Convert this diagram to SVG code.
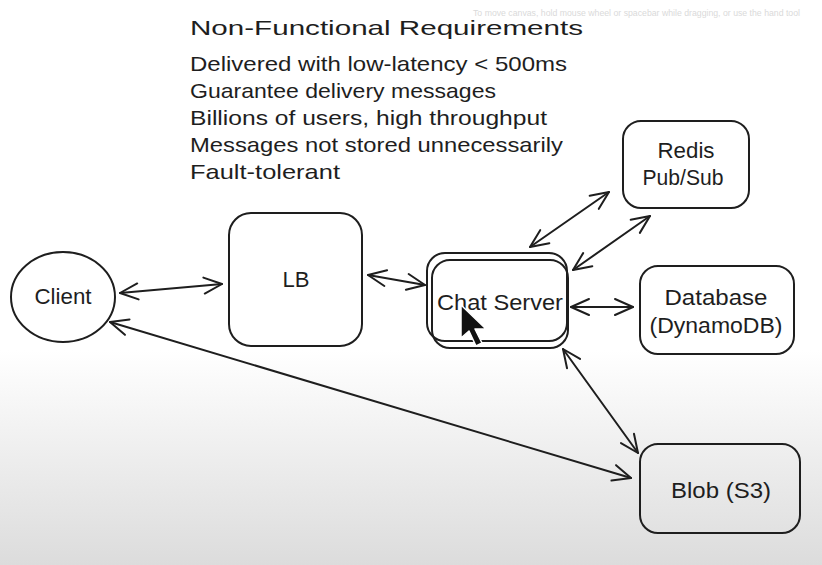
<svg xmlns="http://www.w3.org/2000/svg" width="822" height="565" viewBox="0 0 822 565">
<defs>
<linearGradient id="bg" x1="0" y1="0" x2="0" y2="1">
<stop offset="0" stop-color="#ffffff"/>
<stop offset="0.62" stop-color="#ffffff"/>
<stop offset="1" stop-color="#dcdcdc"/>
</linearGradient>
<marker id="ah" viewBox="0 0 22 22" refX="20" refY="11" markerWidth="22" markerHeight="22" markerUnits="userSpaceOnUse" orient="auto-start-reverse">
<path d="M2,3 L20,11 L2,19" fill="none" stroke="#1e1e1e" stroke-width="2" stroke-linecap="round" stroke-linejoin="round"/>
</marker>
<style>
.shape{fill:none;stroke:#1e1e1e;stroke-width:2}
.lbl{font-family:"Liberation Sans","DejaVu Sans",sans-serif;font-size:22px;fill:#1e1e1e;text-anchor:middle}
.req{font-family:"Liberation Sans","DejaVu Sans",sans-serif;font-size:21px;fill:#1e1e1e}
.conn{fill:none;stroke:#1e1e1e;stroke-width:2;stroke-linecap:round;marker-start:url(#ah);marker-end:url(#ah)}
</style>
</defs>
<rect x="0" y="0" width="822" height="565" fill="url(#bg)"/>
<text x="473" y="16" font-family="Liberation Sans, sans-serif" font-size="9" fill="#dadada" textLength="327" lengthAdjust="spacingAndGlyphs">To move canvas, hold mouse wheel or spacebar while dragging, or use the hand tool</text>
<g id="requirements">
<text x="190" y="35" class="req" font-size="27" textLength="393" lengthAdjust="spacingAndGlyphs">Non-Functional Requirements</text>
<text x="190" y="71" class="req" textLength="377" lengthAdjust="spacingAndGlyphs">Delivered with low-latency &lt; 500ms</text>
<text x="190" y="98" class="req" textLength="306" lengthAdjust="spacingAndGlyphs">Guarantee delivery messages</text>
<text x="190" y="125" class="req" textLength="357" lengthAdjust="spacingAndGlyphs">Billions of users, high throughput</text>
<text x="190" y="152" class="req" textLength="373" lengthAdjust="spacingAndGlyphs">Messages not stored unnecessarily</text>
<text x="190" y="179" class="req" textLength="150" lengthAdjust="spacingAndGlyphs">Fault-tolerant</text>
</g>
<g id="connectors">
<line class="conn" x1="120" y1="293" x2="222" y2="284"/>
<line class="conn" x1="368" y1="275" x2="425" y2="285"/>
<line class="conn" x1="530" y1="247" x2="609" y2="192"/>
<line class="conn" x1="573" y1="270" x2="650" y2="216"/>
<line class="conn" x1="571" y1="307" x2="633" y2="307"/>
<line class="conn" x1="563" y1="349" x2="638" y2="453"/>
<line class="conn" x1="110" y1="322" x2="631" y2="478"/>
</g>
<g id="client">
<ellipse class="shape" cx="63" cy="297" rx="52" ry="45"/>
<text class="lbl" x="63" y="304" textLength="57" lengthAdjust="spacingAndGlyphs">Client</text>
</g>
<g id="lb">
<rect class="shape" x="229" y="213" width="133" height="133" rx="22"/>
<text class="lbl" x="296" y="287" textLength="27" lengthAdjust="spacingAndGlyphs">LB</text>
</g>
<g id="chat-server">
<rect class="shape" x="427" y="253" width="140" height="88" rx="18"/>
<rect class="shape" x="432" y="260" width="136" height="88" rx="18"/>
<text class="lbl" x="500" y="310" textLength="126" lengthAdjust="spacingAndGlyphs">Chat Server</text>
</g>
<g id="redis">
<rect class="shape" x="623" y="121" width="126" height="87" rx="18"/>
<text class="lbl" x="686" y="158" textLength="57" lengthAdjust="spacingAndGlyphs">Redis</text>
<text class="lbl" x="683" y="185" textLength="81" lengthAdjust="spacingAndGlyphs">Pub/Sub</text>
</g>
<g id="database">
<rect class="shape" x="640" y="266" width="154" height="88" rx="18"/>
<text class="lbl" x="716" y="305" textLength="103" lengthAdjust="spacingAndGlyphs">Database</text>
<text class="lbl" x="716" y="333" textLength="133" lengthAdjust="spacingAndGlyphs">(DynamoDB)</text>
</g>
<g id="blob">
<rect class="shape" x="640" y="444" width="160" height="89" rx="18"/>
<text class="lbl" x="721" y="498" textLength="100" lengthAdjust="spacingAndGlyphs">Blob (S3)</text>
</g>
<g id="cursor">
<path d="M461,305 L461,338 L469,331 L476,346 L482,343 L475,329 L486,329 Z" fill="#111" stroke="#fff" stroke-width="1.5" stroke-linejoin="round"/>
</g>
</svg>
